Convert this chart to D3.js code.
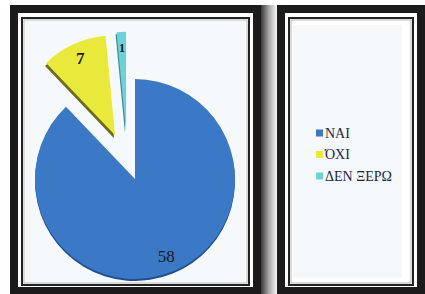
<!DOCTYPE html>
<html>
<head>
<meta charset="utf-8">
<script src="https://cdn.jsdelivr.net/npm/d3@7"></script>
<style>
  html, body { margin: 0; padding: 0; background: #ffffff; }
  svg { display: block; }
</style>
</head>
<body>
<svg id="chart" width="425" height="294"></svg>
<script>
// ---- data ----
const categories = ["ΝΑΙ", "ΌΧΙ", "ΔΕΝ ΞΕΡΩ"];
const values = [58, 7, 1];
const valueLabels = ["58", "7", "1"];

// ---- styles ----
const colors = ["#3b78c6", "#e9e93c", "#6fd0d8"];
const sideColors = ["#1f4f8f", "#6e6a1e", "#3a8e95"];
const explodeDist = [0, 48, 48];
const explodeTilt = [0, 0, -8];       // degrees
const sideShift = [[0, 2], [-1, 3], [-1, 2]];
const labelSizes = [17, 17, 12];

const svg = d3.select("#chart");
const defs = svg.append("defs");

// shadow between panels
const grad = defs.append("linearGradient").attr("id", "shadow")
  .attr("x1", "0").attr("x2", "1").attr("y1", "0").attr("y2", "0");
grad.append("stop").attr("offset", "0").attr("stop-color", "#3a3a3a");
grad.append("stop").attr("offset", "0.5").attr("stop-color", "#a8a8a8");
grad.append("stop").attr("offset", "1").attr("stop-color", "#f6f6f6");
svg.append("rect").attr("x", 261).attr("y", 5).attr("width", 16).attr("height", 289)
  .attr("fill", "url(#shadow)");

function panel(x0, x1) {
  svg.append("rect").attr("x", x0 + 4).attr("y", 9)
    .attr("width", x1 - x0 - 8).attr("height", 282)
    .attr("fill", "#ffffff").attr("stroke", "#1c1a1b").attr("stroke-width", 8);
  svg.append("rect").attr("x", x0 + 12).attr("y", 18)
    .attr("width", x1 - x0 - 24).attr("height", 267)
    .attr("fill", "#ffffff").attr("stroke", "#222").attr("stroke-width", 2);
  svg.append("rect").attr("x", x0 + 14).attr("y", 20)
    .attr("width", x1 - x0 - 28).attr("height", 263)
    .attr("fill", "none").attr("stroke", "#b5b5b5").attr("stroke-width", 1);
}
panel(10, 261);
panel(277, 425);

svg.append("rect").attr("x", 25).attr("y", 21).attr("width", 220).attr("height", 261)
  .attr("fill", "#f5f9fc");
svg.append("rect").attr("x", 293).attr("y", 25).attr("width", 109).attr("height", 253)
  .attr("fill", "#f5f9fc");

// ---- pie ----
const cx = 135, cy = 179, r = 100;
const pie = d3.pie().sort(null).value(d => d)(values);
const arc = d3.arc().innerRadius(0).outerRadius(r);
const labelArc = d3.arc().innerRadius(84).outerRadius(84);

const g = svg.append("g").attr("transform", `translate(${cx},${cy})`);

const slices = g.selectAll("g.slice").data(pie).join("g")
  .attr("class", "slice")
  .attr("transform", (d, i) => {
    const a = (d.startAngle + d.endAngle) / 2 + explodeTilt[i] * Math.PI / 180;
    const dx = explodeDist[i] * Math.sin(a), dy = -explodeDist[i] * Math.cos(a);
    return `translate(${dx},${dy})`;
  });

slices.append("path")
  .attr("d", arc)
  .attr("transform", (d, i) => `translate(${sideShift[i][0]},${sideShift[i][1]})`)
  .attr("fill", (d, i) => sideColors[i]);

slices.append("path")
  .attr("d", arc)
  .attr("fill", (d, i) => colors[i]);

slices.append("text")
  .attr("transform", d => `translate(${labelArc.centroid(d)})`)
  .attr("text-anchor", "middle")
  .attr("dominant-baseline", "central")
  .attr("font-family", "'Liberation Serif', 'DejaVu Serif', serif")
  .attr("font-weight", (d, i) => i === 0 ? "normal" : "bold")
  .attr("font-size", (d, i) => labelSizes[i])
  .attr("fill", "#1a1a1a")
  .text((d, i) => valueLabels[i]);

// ---- legend ----
const legendY = d3.scalePoint().domain(categories).range([133, 176]);
const leg = svg.append("g").selectAll("g").data(categories).join("g")
  .attr("transform", d => `translate(316,${legendY(d)})`);
leg.append("rect").attr("x", 0).attr("y", -3.5).attr("width", 7).attr("height", 7)
  .attr("fill", (d, i) => colors[i]);
leg.append("text").attr("x", 9).attr("y", 0)
  .attr("dominant-baseline", "central")
  .attr("font-family", "'Liberation Serif', 'DejaVu Serif', serif")
  .attr("font-size", 14)
  .attr("fill", "#1b2645")
  .text(d => d);
</script>
</body>
</html>
